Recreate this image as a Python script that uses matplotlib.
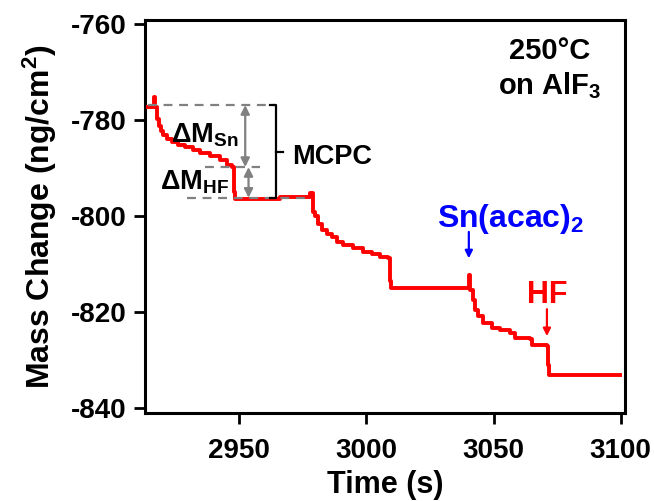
import numpy as np
import matplotlib.pyplot as plt

plt.rcParams['font.family'] = ['Liberation Sans', 'DejaVu Sans']
plt.rcParams['font.weight'] = 'bold'
plt.rcParams['mathtext.fontset'] = 'custom'
plt.rcParams['mathtext.rm'] = 'Liberation Sans:bold'
plt.rcParams['mathtext.bf'] = 'Liberation Sans:bold'
plt.rcParams['mathtext.default'] = 'bf'
plt.rcParams['axes.unicode_minus'] = False

# mass trace (time s, mass ng/cm2)
t = np.array([2914.3, 2916.4, 2916.6, 2917.0, 2917.8, 2918.6, 2919.4, 2920.1,
              2921.7, 2923.7, 2926.0, 2928.8, 2931.9, 2934.7, 2938.6, 2942.5,
              2945.3, 2947.3, 2947.8, 2948.3, 2966.1, 2977.6, 2977.9, 2979.1,
              2979.9, 2981.0, 2982.6, 2984.6, 2986.5, 2988.5, 2990.9, 2994.8,
              2998.7, 3002.2, 3005.4, 3008.5, 3009.3, 3009.7, 3039.6, 3040.3,
              3040.7, 3041.9, 3042.7, 3043.9, 3045.8, 3049.4, 3052.5, 3056.5,
              3058.4, 3064.3, 3065.1, 3071.0, 3071.4, 3072.0, 3099.7])
m = np.array([-777.3, -777.3, -775.2, -777.3, -779.8, -781.3, -782.3, -783.1,
              -784.0, -784.6, -785.2, -785.6, -786.3, -786.9, -787.5, -788.4,
              -789.4, -789.8, -795.0, -796.4, -796.0, -796.0, -795.3, -799.2,
              -800.0, -801.7, -802.8, -803.8, -804.4, -805.5, -806.1, -806.7,
              -807.4, -808.0, -808.6, -808.8, -813.5, -814.9, -814.9, -812.2,
              -815.3, -817.4, -819.5, -820.9, -822.2, -823.2, -823.8, -824.3,
              -825.3, -825.5, -826.8, -827.0, -831.0, -833.0, -833.0])

# reference levels for the cycle
m_top = -776.9
m_mid = -789.8
m_bot = -796.2

fig = plt.figure(figsize=(6.54, 5.01), dpi=100)
ax = fig.add_axes([0.2217, 0.1756, 0.734, 0.7844])

ax.plot(t, m, color='#ff0000', lw=2.8, drawstyle='steps-post', zorder=3)

# dashed guide lines
dash = dict(color='#808080', lw=1.6, ls=(0, (4, 3)), zorder=4)
ax.plot([2914.3, 2964.1], [m_top, m_top], **dash)
ax.plot([2936.6, 2958.2], [m_mid, m_mid], **dash)
ax.plot([2929.6, 2977.9], [m_bot, m_bot], **dash)

# double arrows
arr = dict(arrowstyle='<|-|>', color='#808080', lw=1.6, mutation_scale=13,
           shrinkA=0, shrinkB=0)
ax.annotate('', xy=(2952.4, m_top), xytext=(2952.4, m_mid), arrowprops=arr)
ax.annotate('', xy=(2953.7, m_mid), xytext=(2953.7, m_bot), arrowprops=arr)

# bracket
xb = 2964.6
ax.plot([xb - 2.3, xb, xb, xb - 2.3], [m_top, m_top, m_bot, m_bot],
        color='black', lw=1.6, zorder=5)
ax.plot([xb, xb + 2.5], [-786.6, -786.6], color='black', lw=1.6, zorder=5)

ax.text(2923.4, -784.6, 'ΔM$_{Sn}$', fontsize=19.5, fontweight='bold',
        ha='left', va='baseline')
ax.text(2919.0, -794.4, 'ΔM$_{HF}$', fontsize=19.5, fontweight='bold',
        ha='left', va='baseline')
ax.text(2971.0, -787.7, 'MCPC', fontsize=19.5, fontweight='bold',
        ha='left', va='center')

ax.text(3072.2, -767.3, '250°C', fontsize=21, fontweight='bold',
        ha='center', va='baseline')
ax.text(3072.0, -774.6, 'on AlF$_3$', fontsize=21, fontweight='bold',
        ha='center', va='baseline')

ax.text(3027.8, -802.3, 'Sn(acac)$_2$', fontsize=23, fontweight='bold',
        color='#0000ff', ha='left', va='baseline')
ax.annotate('', xy=(3040.3, -808.8), xytext=(3040.3, -803.3),
            arrowprops=dict(arrowstyle='-|>', color='#0000ff', lw=1.6,
                            mutation_scale=11, shrinkA=0, shrinkB=0))
ax.text(3063.1, -818.0, 'HF', fontsize=22, fontweight='bold',
        color='#ff0000', ha='left', va='baseline')
ax.annotate('', xy=(3071.0, -825.0), xytext=(3071.0, -819.4),
            arrowprops=dict(arrowstyle='-|>', color='#ff0000', lw=1.6,
                            mutation_scale=11, shrinkA=0, shrinkB=0))

ax.set_xlim(2913, 3101.7)
ax.set_ylim(-841, -759.2)
ax.set_xticks([2950, 3000, 3050, 3100])
ax.set_yticks([-760, -780, -800, -820, -840])

for s in ax.spines.values():
    s.set_linewidth(2.2)
ax.tick_params(axis='both', direction='out', length=8, width=2,
               labelsize=20, top=False, right=False)
ax.tick_params(axis='x', pad=10)
ax.tick_params(axis='y', pad=5)
for lb in ax.get_xticklabels() + ax.get_yticklabels():
    lb.set_fontweight('bold')

ax.set_xlabel('Time (s)', fontsize=22, fontweight='bold', labelpad=4)
ax.set_ylabel('Mass Change (ng/cm$^2$)', fontsize=23, fontweight='bold',
              labelpad=9)

fig.savefig('out.png', dpi=100)
